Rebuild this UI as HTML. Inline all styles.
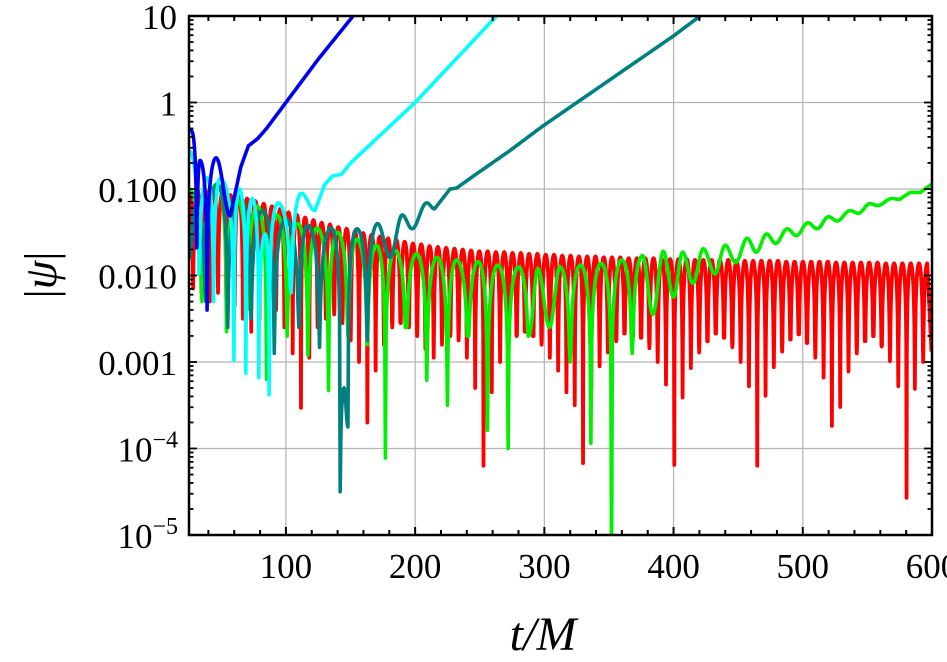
<!DOCTYPE html>
<html><head><meta charset="utf-8"><style>
html,body{margin:0;padding:0;background:#fff;}
svg{display:block;}
text{font-family:"Liberation Serif",serif;fill:#000;}
</style></head><body>
<svg id="chart" width="947" height="662" viewBox="0 0 947 662">
  <defs><clipPath id="plotclip"><rect x="189" y="16" width="743" height="519"/></clipPath></defs>
  <g id="grid"></g>
  <g id="series" clip-path="url(#plotclip)"></g>
  <rect x="189" y="16" width="743" height="519" fill="none" stroke="#000" stroke-width="2.5"/>
  <g id="ticks"></g>
  <g id="labels"></g>
  <text x="543" y="650" font-size="48" font-style="italic" text-anchor="middle">t/M</text>
  <g transform="translate(56,275)">
    <g transform="rotate(-90)">
      <text x="0" y="0" font-size="46" text-anchor="middle">|<tspan font-style="italic">ψ</tspan>|</text>
    </g>
  </g>
</svg>
<script>
// ---------- data ----------
const xTicks = [100, 200, 300, 400, 500, 600];
const xTickLabels = ["100", "200", "300", "400", "500", "600"];
const yTicksLog = [1, 0, -1, -2, -3, -4, -5];
const yTickLabels = ["10", "1", "0.100", "0.010", "0.001", "10|-4", "10|-5"];

const redStart = 28.2;
const redPeriod = 6.42;
const redPeaks = [
-1.00,-1.01,-1.02,-1.03,-1.05,-1.07,-1.09,-1.11,-1.14,-1.17,
-1.20,-1.23,-1.27,-1.30,-1.33,-1.36,-1.39,-1.41,-1.44,-1.46,
-1.49,-1.51,-1.53,-1.55,-1.57,-1.59,-1.61,-1.63,-1.64,-1.66,
-1.67,-1.68,-1.69,-1.70,-1.71,-1.72,-1.72,-1.73,-1.73,-1.74,
-1.74,-1.75,-1.75,-1.76,-1.76,-1.77,-1.77,-1.78,-1.78,-1.78,
-1.79,-1.79,-1.79,-1.80,-1.80,-1.80,-1.80,-1.81,-1.81,-1.81,
-1.81,-1.82,-1.82,-1.82,-1.82,-1.82,-1.83,-1.83,-1.83,-1.83,
-1.83,-1.83,-1.84,-1.84,-1.84,-1.84,-1.84,-1.84,-1.85,-1.85,
-1.85,-1.85,-1.85,-1.85,-1.86,-1.86,-1.86,-1.86,-1.86,-1.86];
const redTroughs = [
-2.15,-2.2,-2.3,-2.2,-2.25,-2.35,-2.5,-2.65,-2.5,-2.4,
-2.4,-2.6,-2.9,-3.53,-2.95,-2.6,-2.5,-2.45,-2.55,-2.75,
-3.0,-3.7,-3.1,-2.8,-2.6,-2.55,-2.6,-2.7,-2.85,-2.95,
-2.8,-2.7,-2.75,-2.95,-3.3,-4.2,-3.35,-3.0,-2.8,-2.7,
-2.65,-2.7,-2.8,-2.95,-3.1,-3.35,-3.5,-4.17,-3.3,-3.05,
-2.89,-2.76,-2.67,-2.7,-2.72,-2.84,-3.0,-3.26,-4.19,-3.41,
-3.07,-2.89,-2.76,-2.67,-2.72,-2.83,-3.0,-3.28,-4.2,-3.39,
-3.06,-2.88,-2.74,-2.68,-2.78,-2.95,-3.18,-3.74,-3.52,-3.11,
-2.9,-2.76,-2.7,-2.82,-2.99,-3.28,-4.57,-3.31,-3.0,-2.88];

const greenT = [25,35,47,54,62,70,78,85,93,101,109,117,124,133,140,148,155,163,170,177,184.5,193,201,209,217,225,232,241,248.7,256,264,272,280,288,295,304,312,320,328,336,344,352,360,368,376,384,392,400,407,415,423,432,440,448,457,464,472,479,488,495,504,511,520,526.5,536.6,543,552,558,569,575,583,591,600];
const greenL = [-1.0,-2.3,-0.94,-2.65,-1.1,-2.4,-1.2,-3.2,-1.3,-2.7,-1.4,-2.92,-1.45,-3.33,-1.5,-2.7,-1.58,-2.8,-1.65,-4.11,-1.71,-2.6,-1.75,-3.21,-1.79,-3.5,-1.82,-2.7,-1.84,-3.79,-1.88,-4.0,-1.9,-2.7,-1.92,-2.6,-1.9,-3.0,-1.88,-3.94,-1.86,-5.4,-1.82,-2.9,-1.77,-2.45,-1.72,-2.25,-1.73,-2.09,-1.69,-1.98,-1.65,-1.85,-1.57,-1.73,-1.52,-1.63,-1.46,-1.54,-1.39,-1.46,-1.32,-1.37,-1.25,-1.28,-1.17,-1.19,-1.11,-1.12,-1.04,-1.04,-0.94];

const tealT = [25,30,38,47,55,64,73,82,91,100,110,117,126,135,142,145,148,155,163,171,180.6,190,197.6,209,215,227,232,248,273,299,400,425];
const tealL = [-1.8,-1.2,-2.3,-0.95,-2.6,-1.1,-2.5,-1.25,-2.9,-1.35,-2.6,-1.42,-2.83,-1.45,-4.5,-3.3,-3.75,-1.46,-2.75,-1.4,-1.79,-1.3,-1.46,-1.16,-1.23,-1.0,-0.99,-0.82,-0.56,-0.27,0.77,1.05];

const cyanT = [25,32.7,39,44,49,59.8,64,69,74,79,84,87,94,104,112,122.5,130,136,143,150,160,200,263,270];
const cyanL = [-0.56,-1.98,-0.87,-2.3,-0.88,-2.98,-1.0,-3.13,-1.11,-3.18,-1.52,-3.38,-1.16,-2.2,-1.05,-1.25,-0.95,-0.85,-0.83,-0.7,-0.56,0,1.0,1.1];

const blueT = [25,27,31,33.5,39,46,57,65,71,78,85,100,125,152,160];
const blueL = [-0.3,-0.33,-1.68,-0.67,-2.4,-0.64,-1.31,-0.75,-0.5,-0.42,-0.3,0,0.5,1.0,1.15];

// ---------- axes ----------
const NS = "http://www.w3.org/2000/svg";
const X0 = 189, X1 = 932, Y0 = 16, Y1 = 535;
function xs(t){ return X0 + (t - 25) * (X1 - X0) / 575; }
function ys(L){ return Y1 - (L + 5) * (Y1 - Y0) / 6; }

function mk(tag, attrs, parent){
  const e = document.createElementNS(NS, tag);
  for (const k in attrs) e.setAttribute(k, attrs[k]);
  parent.appendChild(e);
  return e;
}
const grid = document.getElementById('grid');
const ticks = document.getElementById('ticks');
const labels = document.getElementById('labels');
const series = document.getElementById('series');

xTicks.forEach(t => {
  if (t >= 600) return;
  const l = mk('line', {x1: xs(t), x2: xs(t), y1: Y0, y2: Y1, stroke: '#b4b4b4', 'stroke-width': 1.2}, grid);
  
  
});
yTicksLog.forEach(L => {
  if (L >= 1 || L <= -5) return;
  const l = mk('line', {x1: X0, x2: X1, y1: ys(L), y2: ys(L), stroke: '#b4b4b4', 'stroke-width': 1.2}, grid);
  
  
});

for (let t = 40; t <= 600; t += 20) {
  const major = (t % 100 === 0);
  const len = major ? 8 : 5;
  const a = mk('line', {x1: xs(t), x2: xs(t), y1: Y1, y2: Y1 - len, stroke: '#000', 'stroke-width': 2}, ticks);
  
  
  const b = mk('line', {x1: xs(t), x2: xs(t), y1: Y0, y2: Y0 + len, stroke: '#000', 'stroke-width': 2}, ticks);
  
  
}
xTicks.forEach((t, i) => {
  const tx = mk('text', {x: xs(t), y: 578, 'font-size': 35, 'text-anchor': 'middle'}, labels);
  tx.textContent = xTickLabels[i];
  
  
});
for (let d = -5; d <= 1; d++) {
  for (let m = 1; m <= 9; m++) {
    const L = d + Math.log10(m);
    if (L > 1.0001) break;
    const len = m === 1 ? 8 : 4.5;
    const a = mk('line', {x1: X0, x2: X0 + len, y1: ys(L), y2: ys(L), stroke: '#000', 'stroke-width': 1.8}, ticks);
    
    
    const b = mk('line', {x1: X1, x2: X1 - len, y1: ys(L), y2: ys(L), stroke: '#000', 'stroke-width': 1.8}, ticks);
    
    
  }
}
yTicksLog.forEach((L, i) => {
  const lab = yTickLabels[i];
  const tx = mk('text', {x: 177, y: ys(L) + 13, 'font-size': 35, 'text-anchor': 'end'}, labels);
  if (lab.indexOf('|') >= 0) {
    const parts = lab.split('|');
    tx.setAttribute('x', 178);
    const s1 = mk('tspan', {}, tx); s1.textContent = parts[0];
    const s2 = mk('tspan', {dy: -14, 'font-size': 24}, tx); s2.textContent = '\u2212' + parts[1].replace('-', '');
  } else {
    tx.textContent = lab;
  }
  
  
});

// ---------- series ----------
function isMin(L, i){ return i > 0 && i < L.length - 1 && L[i] < L[i-1] && L[i] < L[i+1]; }
function isMax(L, i){ return i > 0 && i < L.length - 1 && L[i] > L[i-1] && L[i] > L[i+1]; }
function drawSeries(T, L, color, width, name){
  const pts = [[xs(T[0]), ys(L[0])]];
  for (let i = 1; i < T.length; i++) {
    const ta = T[i-1], tb = T[i], La = L[i-1], Lb = L[i];
    const aExt = i - 1 === 0 || isMin(L, i-1) || isMax(L, i-1);
    const bExt = isMin(L, i) || isMax(L, i);
    const n = 14;
    for (let k = 1; k <= n; k++) {
      const u = k / n;
      const t = ta + (tb - ta) * u;
      let v;
      if (isMin(L, i) && La - Lb > 0.8) v = La + Math.log10(Math.max(Math.cos(u * Math.PI / 2), Math.pow(10, Lb - La)));
      else if (isMin(L, i-1) && Lb - La > 0.8) v = Lb + Math.log10(Math.max(Math.cos((1 - u) * Math.PI / 2), Math.pow(10, La - Lb)));
      else if (aExt && bExt) v = La + (Lb - La) * (1 - Math.cos(u * Math.PI)) / 2;
      else v = La + (Lb - La) * u;
      pts.push([xs(t), ys(v)]);
    }
  }
  const d = 'M' + pts.map(p => p[0].toFixed(2) + ',' + p[1].toFixed(2)).join('L');
  const p = mk('path', {d: d, fill: 'none', stroke: color, 'stroke-width': width, 'stroke-linejoin': 'round'}, series);
  
  
}

const redT = [], redL = [];
for (let k = 0; k < redTroughs.length; k++) {
  redT.push(redStart + redPeriod * k - redPeriod / 2); redL.push(redPeaks[k]);
  redT.push(redStart + redPeriod * k); redL.push(redTroughs[k]);
}
drawSeries(redT, redL, '#ff0000', 3.8, 'series-red');
drawSeries(greenT, greenL, '#00f000', 3.6, 'series-green');
drawSeries(tealT, tealL, '#008080', 3.6, 'series-teal');
drawSeries(cyanT, cyanL, '#00ffff', 3.6, 'series-cyan');
drawSeries(blueT, blueL, '#0000ee', 3.6, 'series-blue');
</script>
</body></html>
